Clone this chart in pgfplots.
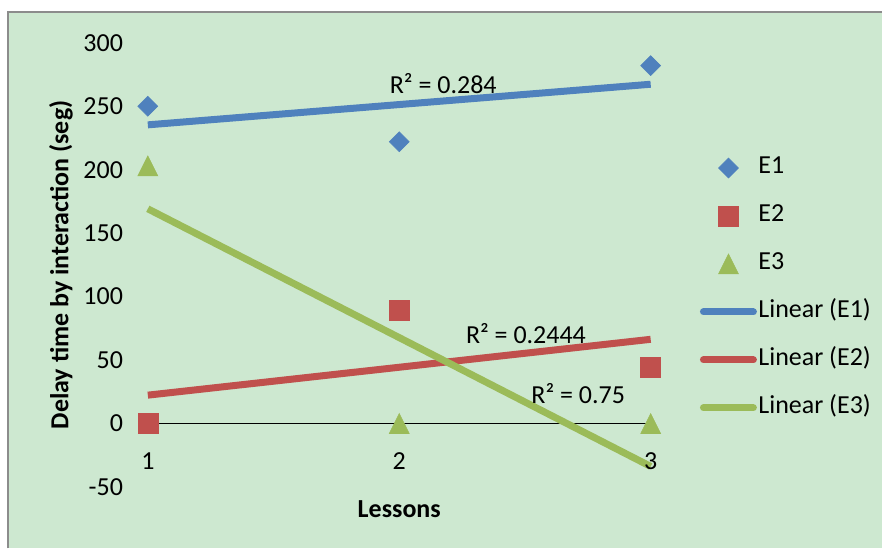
\documentclass[border=0pt]{standalone}
\usepackage{pgfplots}
\pgfplotsset{compat=1.18}
\usepackage{fontspec}
\setmainfont{Carlito}
\definecolor{bg}{HTML}{CDE8D0}
\definecolor{cEa}{HTML}{4F81BD}
\definecolor{cEb}{HTML}{C0504D}
\definecolor{cEc}{HTML}{9BBB59}
\definecolor{framec}{HTML}{8C8C8C}
\begin{document}
\fontsize{19.5}{23}\selectfont
\begin{tikzpicture}
\fill[white] (0,0) rectangle (662.25pt,411.75pt);
\fill[bg] (6pt,0) rectangle (662.25pt,402.4pt);
\draw[framec, line width=1.5pt] (6pt,0) -- (6pt,402.4pt) -- (662.25pt,402.4pt);
\begin{axis}[
  at={(111pt,46.125pt)}, anchor=south west,
  scale only axis, width=377.55pt, height=333.5pt,
  xmin=1, xmax=3, ymin=-50, ymax=300,
  clip=false, axis on top,
  axis line style={draw=none},
  tick style={draw=none},
  xtick={1,2,3}, xticklabels={1,2,3},
  ytick={-50,0,50,100,150,200,250,300},
  yticklabels={-50,0,50,100,150,200,250,300},
  tick label style={font=\fontsize{19.5}{23}\selectfont},
  xticklabel style={anchor=north, inner sep=0pt, yshift=25.9pt},
  yticklabel style={anchor=east, inner sep=0pt, xshift=-18.5pt},
  every axis x label/.style={at={(axis description cs:0.5,-0.0506)}, anchor=center, inner sep=0pt, font=\fontsize{19.5}{23}\selectfont\bfseries},
  every axis y label/.style={at={(axis description cs:-0.1728,0.5)}, rotate=90, anchor=center, inner sep=0pt, font=\fontsize{19.5}{23}\selectfont\bfseries},
  xlabel={Lessons},
  ylabel={Delay time by interaction (seg)},
  legend style={at={(axis description cs:1.0906,0.7455)}, anchor=north west, draw=none, fill=none, inner sep=0pt,
    row sep=18pt, /tikz/column sep=-1.5pt,
    nodes={inner sep=0pt, text height=13pt, text depth=5pt},
    font=\fontsize{19.5}{23}\selectfont},
  legend cell align=left,
]
\addplot[black, line width=0.75pt, forget plot] coordinates {(1,0) (3,0)};
\addplot[only marks, mark=square*, mark size=5.3pt, color=cEa, mark options={rotate=45},
  legend image code/.code={\path (0pt,0pt) (42.75pt,0pt); \draw[mark repeat=2,mark phase=2] plot coordinates {(0pt,0pt) (21.4pt,0pt) (42.75pt,0pt)};}]
  coordinates {(1,250) (2,222) (3,282)};
\addlegendentry{E1}
\addplot[only marks, mark=square*, mark size=7.5pt, color=cEb,
  legend image code/.code={\path (0pt,0pt) (42.75pt,0pt); \draw[mark repeat=2,mark phase=2] plot coordinates {(0pt,0pt) (21.4pt,0pt) (42.75pt,0pt)};}]
  coordinates {(1,0) (2,89) (3,44)};
\addlegendentry{E2}
\addplot[only marks, mark=triangle*, mark size=8.66pt, color=cEc, mark options={yshift=-2.5pt, yscale=1.155},
  legend image code/.code={\path (0pt,0pt) (42.75pt,0pt); \draw[mark repeat=2,mark phase=2] plot coordinates {(0pt,0pt) (21.4pt,0pt) (42.75pt,0pt)};}]
  coordinates {(1,203) (2,0) (3,0)};
\addlegendentry{E3}
\addplot[cEa, line width=5.25pt,
  legend image code/.code={\path (0pt,0pt) (42.75pt,0pt); \draw[line cap=round] (2.6pt,0pt) -- (40.1pt,0pt);}]
  coordinates {(1,235.33) (3,267.33)};
\addlegendentry{Linear (E1)}
\addplot[cEb, line width=5.25pt,
  legend image code/.code={\path (0pt,0pt) (42.75pt,0pt); \draw[line cap=round] (2.6pt,0pt) -- (40.1pt,0pt);}]
  coordinates {(1,22.33) (3,66.33)};
\addlegendentry{Linear (E2)}
\addplot[cEc, line width=5.25pt,
  legend image code/.code={\path (0pt,0pt) (42.75pt,0pt); \draw[line cap=round] (2.6pt,0pt) -- (40.1pt,0pt);}]
  coordinates {(1,169.17) (3,-33.83)};
\addlegendentry{Linear (E3)}
\node[inner sep=0pt] at (axis cs:2.175,267.6) {R² = 0.284};
\node[inner sep=0pt] at (axis cs:2.504,70.8) {R² = 0.2444};
\node[inner sep=0pt] at (axis cs:2.712,23.2) {R² = 0.75};
\end{axis}
\useasboundingbox (0,0) rectangle (662.25pt,411.75pt);
\end{tikzpicture}
\end{document}
